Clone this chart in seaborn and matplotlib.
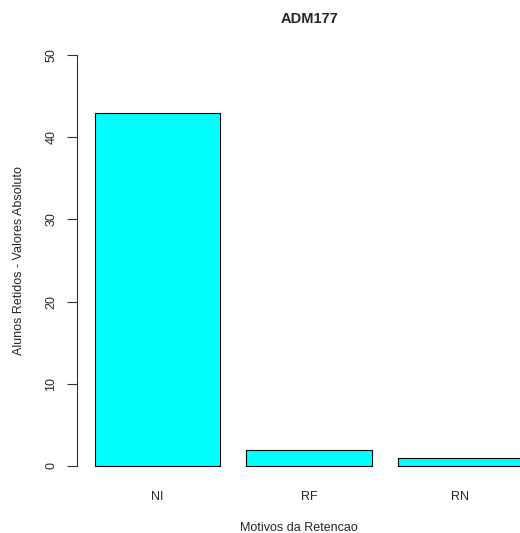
import matplotlib
matplotlib.use("Agg")
import matplotlib.pyplot as plt
import seaborn as sns
import pandas as pd

motivos = ["NI", "RF", "RN"]
alunos = [43, 2, 1]

df = pd.DataFrame({"motivo": motivos, "alunos": alunos})

sns.set_style("white")
plt.rcParams["font.family"] = ["Liberation Sans", "DejaVu Sans"]

fig = plt.figure(figsize=(5.2, 5.33), dpi=100)
ax = fig.add_axes([0.148, 0.0949, 0.852, 0.8327])

sns.barplot(data=df, x="motivo", y="alunos", color="#00FFFF", saturation=1,
            width=0.828, edgecolor="black", linewidth=0.8, ax=ax)

ax.set_xlim(-0.531, 2.393)
ax.set_ylim(-2, 52)
ax.set_yticks([0, 10, 20, 30, 40, 50])
ax.set_yticklabels(["0", "10", "20", "30", "40", "50"], rotation=90, va="center")

for s in ["top", "right", "bottom"]:
    ax.spines[s].set_visible(False)
ax.spines["left"].set_bounds(0, 50)
ax.spines["left"].set_linewidth(0.8)
ax.spines["left"].set_color("#333333")

ax.tick_params(axis="y", left=True, direction="out", length=7, width=0.8,
               color="#333333", labelsize=9, pad=7)
ax.tick_params(axis="x", bottom=False, length=0, labelsize=9, pad=6)

ax.set_xlabel("Motivos da Retencao", fontsize=9, labelpad=14)
ax.set_ylabel("Alunos Retidos - Valores Absoluto", fontsize=9, labelpad=15)
ax.set_title("ADM177", fontsize=10.5, fontweight="bold", x=0.526, pad=11)

fig.savefig("out.png", dpi=100)
